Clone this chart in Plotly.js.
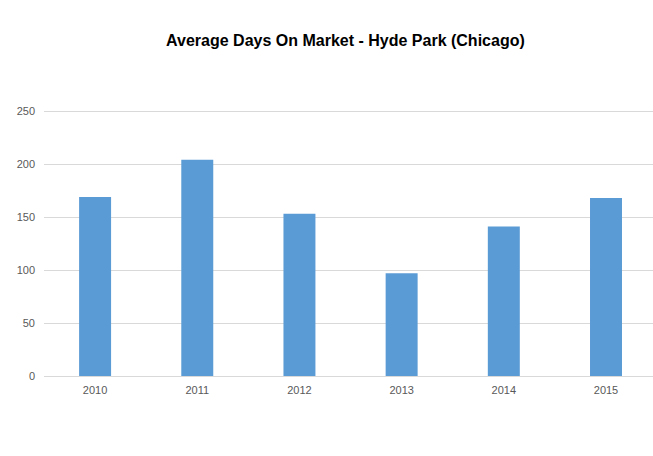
<!DOCTYPE html>
<html>
<head>
<meta charset="utf-8">
<script src="https://cdn.plot.ly/plotly-3.0.1.min.js"></script>
<style>
  html, body { margin: 0; padding: 0; background: #fff; }
  #chart { width: 653px; height: 456px; }
</style>
</head>
<body>
<div id="chart"></div>
<script>
// years on the x axis
var years = ['2010', '2011', '2012', '2013', '2014', '2015'];
// average days on market
var days = [169, 204, 153, 97, 141, 168];
var yTicks = [0, 50, 100, 150, 200, 250];

var data = [{
  x: years,
  y: days,
  type: 'bar',
  marker: { color: '#5B9BD5' },
  hoverinfo: 'x+y'
}];

var layout = {
  width: 653,
  height: 456,
  margin: { l: 44, r: 0, t: 110, b: 80 },
  paper_bgcolor: '#fff',
  plot_bgcolor: '#fff',
  bargap: 0.687,
  showlegend: false,
  title: {
    text: '<b>Average Days On Market - Hyde Park (Chicago)</b>',
    font: { family: 'Liberation Sans, Arial, sans-serif', size: 16, color: '#000' },
    x: 0.529,
    xanchor: 'center',
    y: 0.912,
    yanchor: 'middle'
  },
  xaxis: {
    type: 'category',
    range: [-0.5, 5.46],
    showgrid: false,
    showline: false,
    zeroline: false,
    ticks: '',
    ticklabelstandoff: 6,
    tickfont: { family: 'Liberation Sans, Arial, sans-serif', size: 11, color: '#595959' }
  },
  yaxis: {
    // a hair above 250 so the top gridline is drawn
    range: [0, 251],
    tickvals: yTicks,
    showgrid: true,
    gridcolor: '#D9D9D9',
    gridwidth: 1,
    zeroline: true,
    zerolinecolor: '#D9D9D9',
    zerolinewidth: 1,
    showline: false,
    ticks: '',
    ticklabelstandoff: 8,
    tickfont: { family: 'Liberation Sans, Arial, sans-serif', size: 11, color: '#595959' }
  }
};

Plotly.newPlot('chart', data, layout, { displayModeBar: false, staticPlot: true });
</script>
</body>
</html>
